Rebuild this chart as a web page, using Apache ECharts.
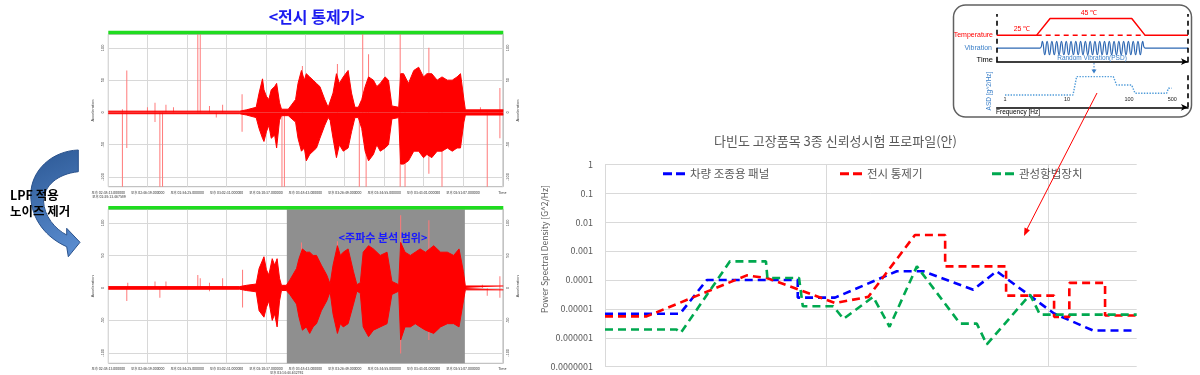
<!DOCTYPE html>
<html><head><meta charset="utf-8">
<script src="https://cdn.jsdelivr.net/npm/echarts@6/dist/echarts.min.js"></script>
<style>html,body{margin:0;padding:0;background:#fff}#c{width:1200px;height:375px}</style>
</head><body><div id="c"></div>
<script>
// ================= DATA =================
// left panels: time axis (minutes from 02:38:13)
const timeTickValues = [0, 8.1, 16.2, 24.3, 32.4, 40.5, 48.6, 56.7, 64.8, 72.9, 81];
const timeTickLabels = ['오후 02:38:13.000000', '오후 02:46:19.000000', '오후 02:54:25.000000', '오후 03:02:31.000000', '오후 03:10:37.000000', '오후 03:18:43.000000', '오후 03:26:49.000000', '오후 03:34:55.000000', '오후 03:43:01.000000', '오후 03:51:07.000000', 'Time'];
const accelTicks = [-100, -50, 0, 50, 100];

// raw signal (top panel) envelope
const rawT  = [0, 27.0, 28.4, 30.4, 31.0, 31.7, 32.0, 32.5, 33.0, 33.5, 34.2, 34.6, 35.2, 35.6, 37.0, 38.5, 39.0, 39.7, 40.3, 40.7, 41.4, 42.1, 42.8, 43.5, 44.5, 45.2, 45.6, 46.2, 46.9, 47.5, 48.3, 49.3, 50.0, 50.7, 51.4, 52.1, 52.8, 53.5, 54.5, 55.2, 55.9, 56.9, 57.6, 58.3, 59.7, 60.1, 60.7, 61.7, 62.8, 63.8, 64.8, 65.5, 66.5, 67.6, 68.6, 69.7, 70.7, 71.7, 72.4, 73.1, 73.4, 81.2];
const rawHi = [2, 2, 4, 8, 30, 52, 35, 25, 20, 35, 40, 45, 15, 5, 5, 20, 45, 65, 50, 60, 55, 50, 45, 40, 20, 8, 10, 30, 60, 45, 55, 65, 30, 8, 8, 20, 40, 55, 50, 40, 45, 55, 50, 10, 8, 60, 60, 45, 65, 70, 55, 60, 60, 50, 55, 50, 50, 55, 60, 20, 4, 4];
const rawLo = [-2, -2, -4, -8, -25, -40, -45, -30, -20, -40, -35, -55, -12, -5, -5, -15, -40, -60, -55, -75, -65, -60, -55, -40, -20, -8, -12, -40, -70, -50, -60, -55, -30, -8, -8, -25, -60, -75, -65, -50, -60, -55, -50, -10, -8, -80, -80, -75, -60, -60, -70, -65, -70, -60, -60, -55, -60, -55, -55, -15, -4, -4];
const rawSpikeT = [2.9, 2.9, 3.8, 3.8, 8.05, 9.6, 9.6, 10.6, 11.15, 11.85, 13.4, 18.4, 18.9, 20.8, 22.2, 23.5, 27.5, 27.5, 35.7, 36.2, 39.9, 47.1, 51.6, 52.3, 53.0, 53.5, 60.0, 60.0, 61.0, 65.9, 65.9, 68.6, 76.5, 77.9, 80.5, 80.5];
const rawSpikeV = [-120, 5, 65, -55, 8, 15, -15, -120, -120, 12, 8, 121, 121, 10, -8, 12, 28, -30, -120, -120, 72, 75, -120, 121, -120, 90, 121, -120, -120, 100, -95, -120, 8, -120, 38, -40];

// LPF-filtered signal (bottom panel) envelope
const lpfT  = [0, 27.0, 28.4, 30.4, 31.0, 32.0, 32.5, 33.0, 33.7, 34.2, 34.7, 35.2, 35.6, 36.6, 37.3, 38.7, 39.2, 39.9, 40.7, 41.4, 42.1, 42.8, 43.8, 44.9, 45.6, 46.2, 47.1, 47.7, 48.3, 49.3, 50.4, 51.1, 51.8, 52.4, 53.5, 54.5, 55.9, 57.3, 58.3, 59.7, 60.1, 61.0, 62.1, 63.1, 64.1, 65.2, 66.9, 68.3, 69.7, 71.0, 72.1, 73.0, 73.4, 81.2];
const lpfHi = [2, 2, 4, 6, 30, 48, 28, 20, 45, 35, 45, 15, 4, 4, 12, 30, 45, 60, 55, 55, 50, 50, 35, 20, 6, 35, 65, 50, 55, 60, 25, 5, 8, 55, 65, 60, 50, 55, 10, 5, 70, 55, 50, 55, 60, 55, 65, 55, 55, 50, 60, 25, 3, 3];
const lpfLo = [-2, -2, -4, -6, -35, -45, -30, -20, -50, -40, -60, -20, -4, -4, -10, -25, -45, -65, -60, -70, -60, -55, -35, -20, -6, -40, -70, -55, -60, -55, -25, -5, -8, -60, -75, -65, -60, -55, -10, -5, -80, -60, -60, -55, -60, -65, -70, -60, -55, -55, -60, -20, -3, -3];
const lpfSpikeT = [3.8, 4.0, 9.6, 10.6, 11.85, 18.4, 18.9, 20.8, 20.8, 23.5, 27.6, 27.6, 39.7, 47.1, 60.1, 60.1, 65.9, 65.9, 76.9, 77.9, 80.5, 80.5];
const lpfSpikeV = [-20, 8, 10, -15, 10, 20, 15, 8, -5, 15, 28, -30, 70, 72, 112, -101, 104, -80, 5, -12, 18, -15];
const analysisRange = [36.7, 73.3];

// PSD chart
const psdTicks = [1e-7, 1e-6, 1e-5, 1e-4, 1e-3, 1e-2, 1e-1, 1];
const psdTickLabels = ['0.0000001', '0.000001', '0.00001', '0.0001', '0.001', '0.01', '0.1', '1'];
const freqTicks = [1, 10, 100];
const seriesNames = ['차량 조종용 패널', '전시 통제기', '관성항법장치'];
const panelF = [1, 2.18, 2.88, 7.4, 7.4, 10.9, 20.7, 27.3, 45.8, 58.4, 106, 159, 240];
const panelP = [6.8e-6, 6.8e-6, 1e-4, 1e-4, 2.45e-5, 2.45e-5, 2e-4, 2e-4, 4.6e-5, 2e-4, 6.9e-6, 1.78e-6, 1.78e-6];
const ctrlF = [1, 1.54, 4.36, 5.37, 10.9, 15.4, 25, 34.2, 34.2, 64.4, 64.4, 106, 106, 124.2, 124.2, 180, 180, 250];
const ctrlP = [5.5e-6, 5.5e-6, 1.44e-4, 1.17e-4, 1.6e-5, 2.6e-5, 3.6e-3, 3.6e-3, 2.95e-4, 2.95e-4, 2.88e-5, 2.88e-5, 5.3e-6, 5.3e-6, 7.9e-5, 7.9e-5, 5.9e-6, 5.9e-6];
const insF = [1, 2.1, 2.2, 3.66, 5.32, 5.4, 7.5, 7.8, 10.7, 11.9, 16.2, 19.2, 25.5, 36, 39.9, 47.5, 52.7, 82.6, 91.6, 250];
const insP = [1.94e-6, 1.94e-6, 1.5e-6, 4.4e-4, 4.4e-4, 1.17e-4, 1.17e-4, 1.23e-5, 1.23e-5, 4.5e-6, 2.6e-5, 2.4e-6, 2.95e-4, 8.9e-6, 3.1e-6, 3.1e-6, 5.9e-7, 3.1e-5, 6.3e-6, 6.3e-6];

// inset test-profile diagram
const tempT = [0, 20.9, 27.9, 70.6, 77.5, 100];
const tempV = [25, 25, 45, 45, 25, 25];
const tempDashT = [20.9, 77.5];
const tempDashV = [25, 25];
const vibT = [0, 22.6, 23.85, 25.1, 26.35, 27.6, 28.85, 30.1, 31.35, 32.6, 33.85, 35.1, 36.35, 37.6, 38.85, 40.1, 41.35, 42.6, 43.85, 45.1, 46.35, 47.6, 48.85, 50.1, 51.35, 52.6, 53.85, 55.1, 56.35, 57.6, 58.85, 60.1, 61.35, 62.6, 63.85, 65.1, 66.35, 67.6, 68.85, 70.1, 71.35, 72.6, 73.85, 75.1, 76.35, 77.6, 100];
const vibV = [0, 0, 1, -1, 1, -1, 1, -1, 1, -1, 1, -1, 1, -1, 1, -1, 1, -1, 1, -1, 1, -1, 1, -1, 1, -1, 1, -1, 1, -1, 1, -1, 1, -1, 1, -1, 1, -1, 1, -1, 1, -1, 1, -1, 1, 0, 0];
const asdF = [1, 12.5, 14.3, 55.8, 63.2, 110.6, 125, 405, 433, 488];
const asdV = [3.5, 3.5, 8.7, 8.7, 6.3, 6.3, 4.0, 4.0, 5.4, 5.4];
const asdTicks = [1, 10, 100, 500];

// ================= BUILD =================
const zip = (a, b) => a.map((v, i) => [v, b[i]]);
const KR = '"Noto Sans CJK KR", "Noto Sans", sans-serif';
const EN = '"Liberation Sans", Arial, sans-serif';
const GRIDC = '#d8d8d8';
const timeFmt = v => { let k = 0, d = 1e9; timeTickValues.forEach((t, i) => { if (Math.abs(t - v) < d) { d = Math.abs(t - v); k = i; } }); return timeTickLabels[k]; };

function panelAxes(grid, min, max) {
  const x = { type: 'value', gridIndex: grid, min: 0, max: 81.2,
    axisLine: { show: false, onZero: false }, axisTick: { show: false, customValues: timeTickValues },
    axisLabel: { customValues: timeTickValues, formatter: timeFmt, fontSize: 3.5, color: '#333', margin: 4, fontFamily: KR },
    splitLine: { show: true, lineStyle: { color: GRIDC, width: 1 } } };
  const yl = { type: 'value', gridIndex: grid, min: min, max: max, position: 'left',
    axisLine: { show: false }, axisTick: { show: false, customValues: accelTicks },
    axisLabel: { customValues: accelTicks, fontSize: 4, rotate: 90, margin: 3, color: '#444' },
    splitLine: { show: true, lineStyle: { color: GRIDC } },
    name: 'Acceleration', nameLocation: 'middle', nameGap: 13, nameTextStyle: { fontSize: 4, color: '#444' } };
  const yr = { type: 'value', gridIndex: grid, min: min, max: max, position: 'right',
    axisLine: { show: false }, axisTick: { show: false, customValues: accelTicks },
    axisLabel: { customValues: accelTicks, fontSize: 4, rotate: 90, margin: 3, color: '#444' },
    splitLine: { show: false },
    name: 'Acceleration', nameLocation: 'middle', nameGap: 13, nameTextStyle: { fontSize: 4, color: '#444' } };
  return { x, yl, yr };
}
const pa0 = panelAxes(0, -115, 121);
const pa1 = panelAxes(1, -116, 121);

function envSeries(xi, yi, t, hi, lo, spT, spV) {
  const base = { type: 'line', xAxisIndex: xi, yAxisIndex: yi, symbol: 'none', silent: true, z: 3,
    lineStyle: { color: '#ff0000', width: 1 }, areaStyle: { color: '#ff0000', opacity: 1 } };
  return [
    Object.assign({}, base, { data: zip(t, hi) }),
    Object.assign({}, base, { data: zip(t, lo) }),
    { type: 'bar', xAxisIndex: xi, yAxisIndex: yi, data: zip(spT, spV), barWidth: 1, silent: true, z: 2,
      itemStyle: { color: '#ff7a7a' } }
  ];
}

const psdColors = ['#0000ff', '#ff0000', '#00a84f'];
const psdData = [zip(panelF, panelP), zip(ctrlF, ctrlP), zip(insF, insP)];

const arrowPath = 'M78.3 150 C52 151 31 170 30.7 195 C31 220 47 238 66.7 246.7 L68.3 256.7 L80 242.3 L66.7 228.3 L66.7 235 C55 229 44 216 43.5 201 C44 186 57 174 78.3 171.7 Z';
let arrowEl;
try {
  echarts.graphic.registerShape('lpfArrow', echarts.graphic.extendPath(arrowPath, {}));
  arrowEl = { type: 'lpfArrow', z: 10, shape: {},
    style: { fill: new echarts.graphic.LinearGradient(0, 0, 1, 1, [{ offset: 0, color: '#2c5894' }, { offset: 1, color: '#5d90d4' }]), stroke: '#2a528c', lineWidth: 1 } };
} catch (e) {
  arrowEl = { type: 'polygon', z: 10, shape: { points: [[78.3, 150], [55, 155], [38, 170], [31, 195], [38, 222], [55, 240], [66.7, 246.7], [68.3, 256.7], [80, 242.3], [66.7, 228.3], [66.7, 235], [52, 224], [44, 205], [50, 185], [62, 175], [78.3, 171.7]] },
    style: { fill: '#3f6fb0', stroke: '#2a528c', lineWidth: 1 } };
}

const T = (x, y, text, font, fill, align, extra) => Object.assign({ type: 'text', z: 20, x: x, y: y,
  style: { text: text, font: font, fill: fill, align: align, verticalAlign: 'middle', textAlign: align, textVerticalAlign: 'middle' } }, extra || {});

const option = {
  animation: false,
  backgroundColor: '#ffffff',
  grid: [
    { left: 108.3, top: 34.3, width: 395, height: 152.4, show: true, borderColor: '#b4b4b4', borderWidth: 1, backgroundColor: '#fff' },
    { left: 108.3, top: 209.3, width: 395, height: 154, show: true, borderColor: '#b4b4b4', borderWidth: 1, backgroundColor: '#fff' },
    { left: 605, top: 164.3, width: 531.7, height: 202.4 },
    { left: 996.7, top: 14, width: 191.3, height: 47.7 },
    { left: 996.7, top: 72, width: 191.3, height: 35.3 }
  ],
  legend: seriesNames.map((n, i) => ({
    data: [n], left: [663, 840, 992][i], top: 168, padding: 0,
    icon: 'path://M0 0H9V3H0Z M13 0H22V3H13Z', itemWidth: 22, itemHeight: 3,
    textStyle: { fontSize: 11.5, color: '#595959', fontFamily: KR }, selectedMode: false
  })),
  xAxis: [
    pa0.x, pa1.x,
    { type: 'log', gridIndex: 2, min: 1, max: 250, logBase: 10,
      axisLine: { show: false, onZero: false }, axisTick: { show: false, customValues: freqTicks },
      axisLabel: { show: false }, splitLine: { show: true, lineStyle: { color: '#d9d9d9' } } },
    { type: 'value', gridIndex: 3, min: 0, max: 100,
      axisLine: { show: true, onZero: false, symbol: ['none', 'arrow'], symbolSize: [5, 7], lineStyle: { color: '#000', width: 1.5 } },
      axisTick: { show: false }, axisLabel: { show: false }, splitLine: { show: false } },
    { type: 'log', gridIndex: 4, min: 0.735, max: 895, logBase: 10,
      axisLine: { show: true, onZero: false, symbol: ['none', 'arrow'], symbolSize: [5, 7], lineStyle: { color: '#000', width: 1.5 } },
      axisTick: { show: false, customValues: asdTicks },
      axisLabel: { customValues: asdTicks, inside: true, fontSize: 5.5, margin: 5, color: '#222', fontFamily: EN },
      splitLine: { show: false } }
  ],
  yAxis: [
    pa0.yl, pa0.yr, pa1.yl, pa1.yr,
    { type: 'log', gridIndex: 2, min: 1e-7, max: 1, logBase: 10,
      axisLine: { show: false }, axisTick: { show: false, customValues: psdTicks },
      axisLabel: { customValues: psdTicks, margin: 12, fontSize: 9, color: '#595959', fontFamily: KR,
        formatter: v => psdTickLabels[Math.round(Math.log10(v)) + 7] },
      splitLine: { show: true, lineStyle: { color: '#d9d9d9' } } },
    { type: 'value', gridIndex: 3, min: -7, max: 50.5, show: false },
    { type: 'value', gridIndex: 3, min: -2.04, max: 5.12, show: false },
    { type: 'value', gridIndex: 4, min: 0, max: 10, show: false }
  ],
  series: [
    { type: 'line', xAxisIndex: 1, yAxisIndex: 2, data: [[0, 0]], symbol: 'none', lineStyle: { opacity: 0 }, z: 1, silent: true,
      markArea: { silent: true, itemStyle: { color: '#8f8f8f' }, label: { show: false },
        data: [[{ xAxis: analysisRange[0] }, { xAxis: analysisRange[1] }]] } },
    ...envSeries(0, 0, rawT, rawHi, rawLo, rawSpikeT, rawSpikeV),
    ...envSeries(1, 2, lpfT, lpfHi, lpfLo, lpfSpikeT, lpfSpikeV),
    ...seriesNames.map((n, i) => ({
      type: 'line', name: n, xAxisIndex: 2, yAxisIndex: 4, data: psdData[i], symbol: 'none', z: 5,
      lineStyle: { color: psdColors[i], width: 2.6, type: [8, 5] }, itemStyle: { color: psdColors[i] }
    })),
    { type: 'line', xAxisIndex: 3, yAxisIndex: 5, data: zip(tempT, tempV), symbol: 'none', z: 4,
      lineStyle: { color: '#ff0000', width: 1.5 },
      markLine: { silent: true, symbol: 'none', label: { show: false },
        lineStyle: { color: '#000', width: 1.6, type: [5, 4] }, data: [{ xAxis: 0 }, { xAxis: 100 }] } },
    { type: 'line', xAxisIndex: 3, yAxisIndex: 5, data: zip(tempDashT, tempDashV), symbol: 'none', z: 4,
      lineStyle: { color: '#ff0000', width: 1.5, type: [5, 4] } },
    { type: 'line', xAxisIndex: 3, yAxisIndex: 6, data: zip(vibT, vibV), symbol: 'none', smooth: 0.5, z: 4,
      lineStyle: { color: '#2e68b3', width: 1.2 } },
    { type: 'line', xAxisIndex: 4, yAxisIndex: 7, data: zip(asdF, asdV), symbol: 'none', z: 4,
      lineStyle: { color: '#4f9bd9', width: 1.4, type: 'dotted' },
      markLine: { silent: true, symbol: 'none', label: { show: false },
        lineStyle: { color: '#000', width: 1.6, type: [5, 4] }, data: [{ xAxis: 0.735 }, { xAxis: 895 }] } }
  ],
  graphic: [
    { type: 'rect', z: -10, shape: { x: 953.5, y: 5, width: 238, height: 112, r: 12 }, style: { fill: '#fff', stroke: '#606060', lineWidth: 1.5 } },
    { type: 'rect', z: 10, shape: { x: 108.3, y: 30.7, width: 395, height: 3.6 }, style: { fill: '#1fdc1f' } },
    { type: 'rect', z: 10, shape: { x: 108.3, y: 206, width: 395, height: 3.4 }, style: { fill: '#1fdc1f' } },
    arrowEl,
    T(10, 195, 'LPF 적용', 'bold 12.5px ' + KR, '#000', 'left'),
    T(10, 211, '노이즈 제거', 'bold 12.5px ' + KR, '#000', 'left'),
    T(316.7, 17, '<전시 통제기>', 'bold 16px ' + KR, '#1c1cf0', 'center'),
    T(383, 238, '<주파수 분석 범위>', 'bold 11px ' + KR, '#1a1aff', 'center'),
    T(109, 196.5, '오후 02:38:13.467589', '3.5px ' + KR, '#333', 'center'),
    T(286.7, 372.5, '오후 03:14:44.632792', '3.5px ' + KR, '#333', 'center'),
    T(835.5, 141, '다빈도 고장품목 3종 신뢰성시험 프로파일(안)', '13px ' + KR, '#595959', 'center'),
    T(545, 249, 'Power Spectral Density [G^2/Hz]', '8.5px ' + KR, '#595959', 'center', { rotation: Math.PI / 2 }),
    T(993, 35, 'Temperature', '7px ' + EN, '#ff0000', 'right'),
    T(992, 48, 'Vibration', '7px ' + EN, '#3a7fc8', 'right'),
    T(993, 59.5, 'Time', '7.5px ' + EN, '#000', 'right'),
    T(1089, 13, '45 ℃', '7px ' + EN, '#ff0000', 'center'),
    T(1022, 29, '25 ℃', '7px ' + EN, '#ff0000', 'center'),
    T(1092, 58, 'Random Vibration(PSD)', '6.5px ' + EN, '#3a7fc8', 'center'),
    T(989, 91, 'ASD [g^2/Hz]', '6.5px ' + EN, '#3a7fc8', 'center', { rotation: Math.PI / 2 }),
    T(996, 112.5, 'Frequency [Hz]', '6.5px ' + EN, '#000', 'left'),
    { type: 'line', z: 20, shape: { x1: 1094, y1: 63, x2: 1094, y2: 70 }, style: { stroke: '#3a7fc8', lineWidth: 1, lineDash: [1.5, 1.5] } },
    { type: 'polygon', z: 20, shape: { points: [[1091.5, 69.5], [1096.5, 69.5], [1094, 73.5]] }, style: { fill: '#3a7fc8' } },
    { type: 'line', z: 20, shape: { x1: 1097, y1: 93, x2: 1025, y2: 233 }, style: { stroke: '#ff0000', lineWidth: 1 } },
    { type: 'polygon', z: 20, shape: { points: [[1024, 236], [1029.9, 230.2], [1024.5, 227.4]] }, style: { fill: '#ff0000' } }
  ]
};

const chart = echarts.init(document.getElementById('c'), null, { renderer: 'canvas' });
chart.setOption(option);
</script>
</body></html>
